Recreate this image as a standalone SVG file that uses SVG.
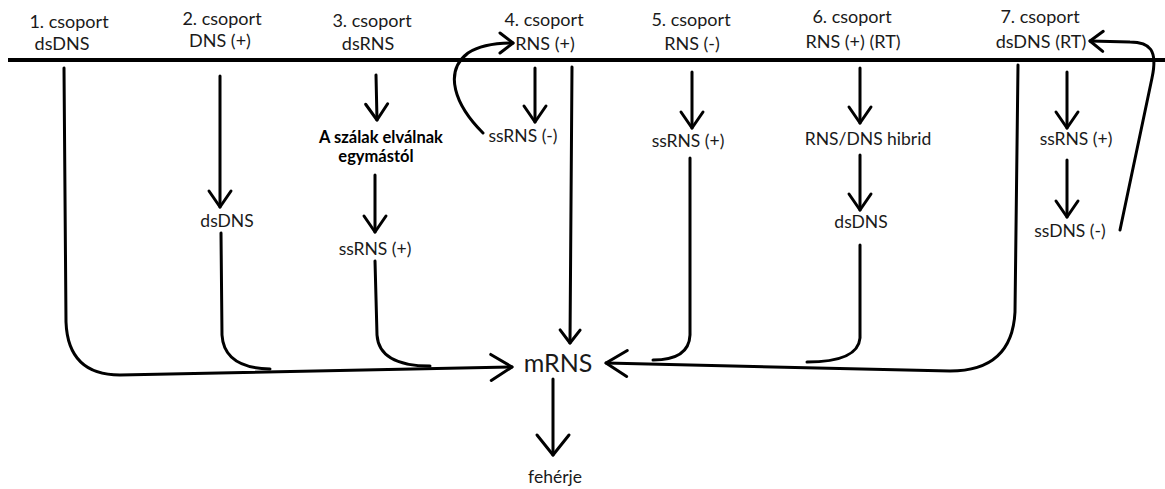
<svg xmlns="http://www.w3.org/2000/svg" width="1165" height="489" viewBox="0 0 1165 489">
<style>
  text { font-family: Lato, "Open Sans", "Liberation Sans", sans-serif; fill: #1a1a1a; text-anchor: middle; }
  .h { font-size: 18px; }
  .l { font-size: 17.5px; }
  .b { font-size: 16.5px; font-weight: bold; fill: #000; }
  .m { font-size: 25px; }
  .c { fill: none; stroke: #000; stroke-width: 3; stroke-linecap: round; stroke-linejoin: round; }
  .ah { fill: none; stroke: #000; stroke-width: 3; stroke-linecap: round; stroke-linejoin: round; }
</style>
<defs>
  <marker id="arr" markerUnits="userSpaceOnUse" viewBox="-20 -15 24 30" refX="0" refY="0" markerWidth="24" markerHeight="30" orient="auto">
    <path class="ah" d="M-16,-11 L0,0 L-16,11"/>
  </marker>
  <marker id="arrS" markerUnits="userSpaceOnUse" viewBox="-20 -15 24 30" refX="0" refY="0" markerWidth="24" markerHeight="30" orient="auto">
    <path class="ah" d="M-13,-10 L0,0 L-13,10"/>
  </marker>
  <marker id="arrB" markerUnits="userSpaceOnUse" viewBox="-26 -20 30 40" refX="0" refY="0" markerWidth="30" markerHeight="40" orient="auto">
    <path class="ah" d="M-21,-13 L0,0 L-21,13"/>
  </marker>
  <marker id="arrD" markerUnits="userSpaceOnUse" viewBox="-26 -20 30 40" refX="0" refY="0" markerWidth="30" markerHeight="40" orient="auto">
    <path class="ah" d="M-20,-16 L0,0 L-20,16"/>
  </marker>
</defs>
<rect width="1165" height="489" fill="#fff"/>

<line x1="8" y1="60" x2="1165" y2="60" stroke="#000" stroke-width="4"/>

<g id="g1"><text class="h" x="69" y="28">1. csoport</text><text class="h" x="62" y="50">dsDNS</text></g>
<g id="g2"><text class="h" x="222" y="25">2. csoport</text><text class="h" x="220" y="47">DNS (+)</text></g>
<g id="g3"><text class="h" x="372" y="27">3. csoport</text><text class="h" x="368" y="50">dsRNS</text></g>
<g id="g4"><text class="h" x="544" y="26">4. csoport</text><text class="h" x="545" y="50">RNS (+)</text></g>
<g id="g5"><text class="h" x="691" y="26">5. csoport</text><text class="h" x="692" y="50">RNS (-)</text></g>
<g id="g6"><text class="h" x="852" y="23">6. csoport</text><text class="h" x="853" y="48">RNS (+) (RT)</text></g>
<g id="g7"><text class="h" x="1040" y="23">7. csoport</text><text class="h" x="1041" y="48">dsDNS (RT)</text></g>

<g id="n2-dsDNS"><text class="l" x="227" y="227">dsDNS</text></g>
<g id="n3-sep"><text class="b" x="381" y="143">A szálak elválnak</text><text class="b" x="376" y="162">egymástól</text></g>
<g id="n3-ssRNS"><text class="l" x="375" y="255">ssRNS (+)</text></g>
<g id="n4-ssRNS"><text class="l" x="523" y="142">ssRNS (-)</text></g>
<g id="n5-ssRNS"><text class="l" x="688" y="147">ssRNS (+)</text></g>
<g id="n6-hibrid"><text class="l" x="868" y="145">RNS/DNS hibrid</text></g>
<g id="n6-dsDNS"><text class="l" x="861" y="228">dsDNS</text></g>
<g id="n7-ssRNS"><text class="l" x="1076" y="145">ssRNS (+)</text></g>
<g id="n7-ssDNS"><text class="l" x="1070" y="237">ssDNS (-)</text></g>
<g id="mRNS"><text class="m" x="558" y="372">mRNS</text></g>
<g id="feherje"><text class="l" x="555" y="483">fehérje</text></g>

<g id="connectors">
  <path class="c" d="M64,68 L66,322 Q68,375 120,375 L512,367" marker-end="url(#arrB)"/>
  <path class="c" d="M220,76 L220,207" marker-end="url(#arr)"/>
  <path class="c" d="M221,233 L222,335 Q224,368 270,369"/>
  <path class="c" d="M376,75 L377,120" marker-end="url(#arr)"/>
  <path class="c" d="M375,175 L375,232" marker-end="url(#arr)"/>
  <path class="c" d="M375,261 L377,335 Q379,366 430,366"/>
  <path class="c" d="M535,68 L535,122" marker-end="url(#arr)"/>
  <path class="c" d="M483,133 C455,105 443,72 468,53 C480,45 495,43 513,43" marker-end="url(#arrS)"/>
  <path class="c" d="M572,67 L570,343" marker-end="url(#arrS)"/>
  <path class="c" d="M692,72 L692,128" marker-end="url(#arr)"/>
  <path class="c" d="M690,158 L690,335 Q689,360 653,360"/>
  <path class="c" d="M860,68 L860,123" marker-end="url(#arr)"/>
  <path class="c" d="M860,155 L860,210" marker-end="url(#arr)"/>
  <path class="c" d="M860,245 L860,338 Q858,362 807,362"/>
  <path class="c" d="M1018,65 L1015,312 Q1012,371 950,371 L606,363" marker-end="url(#arrB)"/>
  <path class="c" d="M1067,72 L1067,128" marker-end="url(#arr)"/>
  <path class="c" d="M1067,160 L1067,217" marker-end="url(#arr)"/>
  <path class="c" d="M1120,230 L1152,78 C1158,50 1150,42 1130,42 L1090,41" marker-end="url(#arrS)"/>
  <path class="c" d="M553,379 L553,455" marker-end="url(#arrD)"/>
</g>
</svg>
